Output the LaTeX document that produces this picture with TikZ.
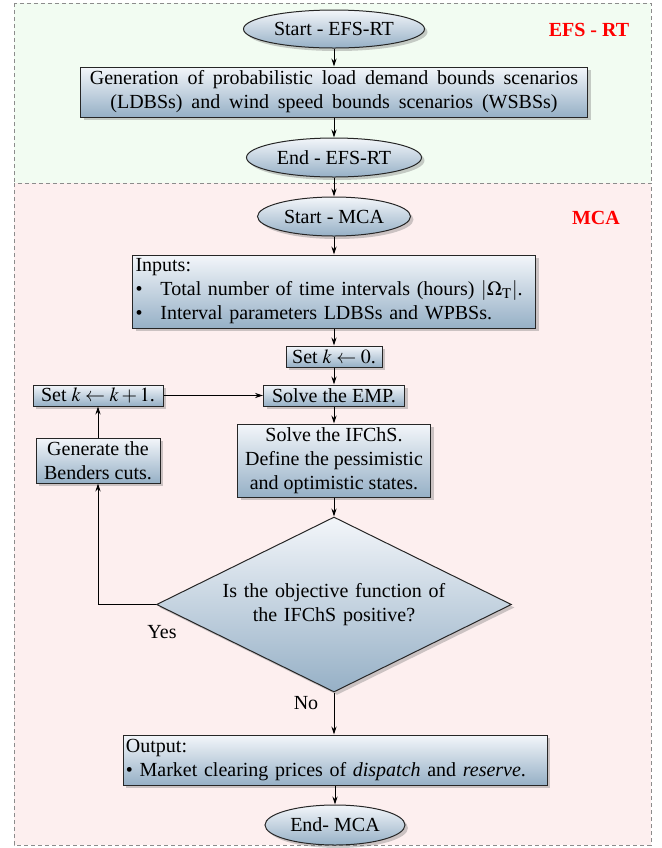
\documentclass[tikz,border=0pt]{standalone}
\usepackage{mathptmx}
\usepackage[no-math]{fontspec}
\setmainfont{Liberation Serif}
\usetikzlibrary{shapes.geometric,shadows,arrows.meta}
\definecolor{topc}{RGB}{243,246,250}
\definecolor{botc}{RGB}{150,176,198}
\definecolor{bggreen}{RGB}{242,252,242}
\definecolor{bgpink}{RGB}{253,239,239}
\begin{document}
\begin{tikzpicture}[x=0.5pt,y=-0.5pt,
 shd/.style={top color=topc,bottom color=botc,draw=black!85,line width=0.5pt,
   drop shadow={shadow xshift=1.5pt,shadow yshift=-1.5pt,opacity=0.4}},
 proc/.style={shd,rectangle,inner sep=1pt},
 term/.style={shd,ellipse,inner sep=0pt},
 dec/.style={shd,diamond,aspect=2,inner sep=0pt},
 arr/.style={-{Stealth[length=4pt,width=2.6pt]},line width=0.45pt},
 region/.style={draw=black!45,dash pattern=on 2pt off 1.5pt,line width=0.5pt},
 tag/.style={text=red,font=\bfseries},
 lbl/.style={inner sep=0pt}]
\useasboundingbox (0,0) rectangle (662,848);
% regions
\path[region,fill=bggreen] (14,3) rectangle (651,183);
\path[region,fill=bgpink] (14,183) rectangle (651,845);
\node[tag] (t1) at (589,30) {EFS - RT};
\node[tag] (t2) at (596,218) {MCA};
% nodes
\node[term,minimum width=90.5pt,minimum height=19pt] (s1) at (334,29) {Start - EFS-RT};
\node[proc,minimum width=253.5pt,minimum height=25pt,align=center,
  font={\spaceskip=4.4pt plus 0.5pt\relax}] (gen) at (334,92)
  {Generation of probabilistic load demand bounds scenarios\\(LDBSs) and wind speed bounds scenarios (WSBSs)};
\node[term,minimum width=87.5pt,minimum height=19.5pt] (e1) at (334,157.5) {End - EFS-RT};
\node[term,minimum width=76.5pt,minimum height=19.5pt] (s2) at (334,216.5) {Start - MCA};
\node[proc,inner sep=1.5pt,text width=198.5pt,minimum height=36.5pt,align=left,
  font={\spaceskip=2.8pt plus 0.5pt\relax}] (inp) at (334,291.5)
  {Inputs:\\\textbullet\hspace{0.9em}Total number of time intervals (hours) $|\Omega_{\mathrm{T}}|$.\\\textbullet\hspace{0.9em}Interval parameters LDBSs and WPBSs.};
\node[proc,minimum width=48pt,minimum height=10.5pt] (k0) at (334,356.5) {Set $k\leftarrow 0$.};
\node[proc,minimum width=70.5pt,minimum height=10.5pt] (emp) at (334,395.5) {Solve the EMP.};
\node[proc,minimum width=65pt,minimum height=10.5pt] (kk) at (98,395.5) {Set $k\leftarrow k+1$.};
\node[proc,minimum width=96.5pt,minimum height=36.5pt,align=center] (ifc) at (334,460.5)
  {Solve the IFChS.\\Define the pessimistic\\and optimistic states.};
\node[proc,minimum width=62pt,minimum height=22.5pt,align=center] (ben) at (98,460.5)
  {Generate the\\Benders cuts.};
\node[dec,minimum width=177.5pt,minimum height=87.5pt,align=center,
  font={\spaceskip=3.4pt plus 0.5pt\relax}] (dec) at (334,604.5)
  {Is the objective function of\\the IFChS positive?};
\node[proc,inner sep=1.5pt,text width=209pt,minimum height=25pt,align=left] (out) at (335,760)
  {Output:\\\textbullet\ Market clearing prices of \textit{dispatch} and \textit{reserve}.};
\node[term,minimum width=70pt,minimum height=20pt] (e2) at (335,825) {End- MCA};
\node[lbl] (yes) at (162,632) {Yes};
\node[lbl] (no) at (306,703) {No};
% connectors
\draw[arr] (s1) -- (gen);
\draw[arr] (gen) -- (e1);
\draw[arr] (e1) -- (s2);
\draw[arr] (s2) -- (inp);
\draw[arr] (inp) -- (k0);
\draw[arr] (k0) -- (emp);
\draw[arr] (emp) -- (ifc);
\draw[arr] (ifc) -- (dec);
\draw[arr] (dec.south) -- (dec.south |- out.north);
\draw[arr] (out.south -| e2) -- (e2);
\draw[arr] (dec.west) -| (ben.south);
\draw[arr] (ben) -- (kk);
\draw[arr] (kk) -- (emp);
\end{tikzpicture}
\end{document}
